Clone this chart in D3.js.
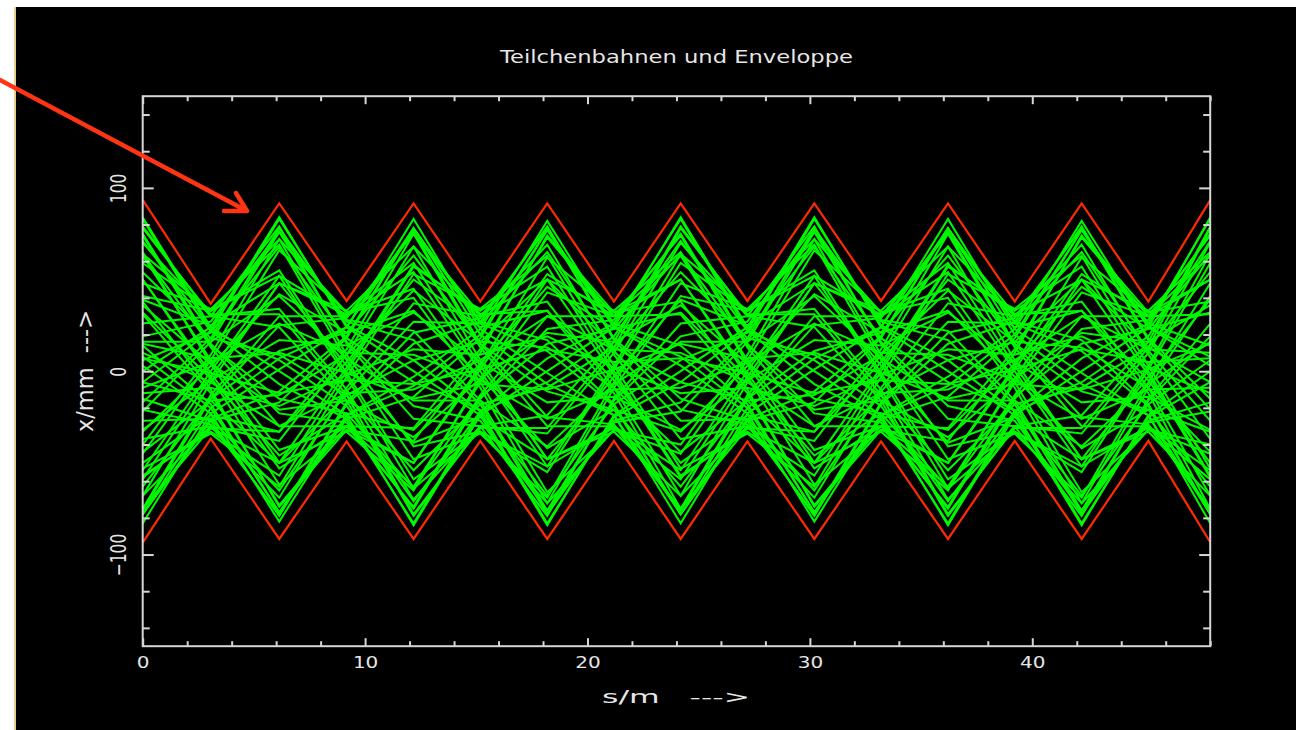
<!DOCTYPE html>
<html lang="de">
<head>
<meta charset="UTF-8">
<title>Teilchenbahnen und Enveloppe</title>
<script src="https://d3js.org/d3.v7.min.js"></script>
<style>
  body { margin: 0; background: #fff; }
  svg { display: block; }
</style>
</head>
<body>
<svg id="chart" width="1296" height="730"></svg>
<script>
// positions of the quadrupoles along s (m), where the paths bend
const sPos = [0, 3.06, 6.14, 9.17, 12.18, 15.18, 18.19, 21.19, 24.19, 27.19, 30.2, 33.2, 36.21, 39.21, 42.22, 45.22, 48];

// upper envelope x (mm) at those positions, lower one is the mirror
const envUpper = [93.5, 36.8, 91.5, 38.3, 91.5, 38, 91.5, 38, 91.5, 38.3, 91.5, 38.3, 91.5, 38, 91.5, 38, 93.3];

// particle paths x (mm), one row per particle, same positions as sPos
const bahnen = [
  [83,22,-7,-26,-83,-22,7,26,83,22,-7,-26,-83,-22,7,26,83],
  [64,14,-15,-23,-64,-14,15,23,64,14,-15,-23,-64,-14,15,23,64],
  [74,13,-30,-30,-74,-13,30,30,74,13,-30,-30,-74,-13,30,30,74],
  [36,4,-21,-16,-36,-4,21,16,36,4,-21,-16,-36,-4,21,16,36],
  [65,4,-50,-33,-65,-4,50,33,65,4,-50,-33,-65,-4,50,33,65],
  [50,-1,-53,-30,-50,1,53,30,50,-1,-53,-30,-50,1,53,30,50],
  [32,-4,-46,-23,-32,4,46,23,32,-4,-46,-23,-32,4,46,23,32],
  [38,-10,-74,-32,-38,10,74,32,38,-10,-74,-32,-38,10,74,32,38],
  [10,-6,-30,-12,-10,6,30,12,10,-6,-30,-12,-10,6,30,12,10],
  [14,-18,-77,-26,-14,18,77,26,14,-18,-77,-26,-14,18,77,26,14],
  [3,-23,-82,-24,-3,23,82,24,3,-23,-82,-24,-3,23,82,24,3],
  [-6,-16,-50,-13,6,16,50,13,-6,-16,-50,-13,6,16,50,13,-6],
  [-21,-29,-78,-17,21,29,78,17,-21,-29,-78,-17,21,29,78,17,-21],
  [-27,-26,-65,-11,27,26,65,11,-27,-26,-65,-11,27,26,65,11,-27],
  [-12,-9,-19,-2,12,9,19,2,-12,-9,-19,-2,12,9,19,2,-12],
  [-53,-34,-63,-3,53,34,63,3,-53,-34,-63,-3,53,34,63,3,-53],
  [-58,-31,-50,2,58,31,50,-2,-58,-31,-50,2,58,31,50,-2,-58],
  [-50,-24,-33,5,50,24,33,-5,-50,-24,-33,5,50,24,33,-5,-50],
  [-75,-31,-33,12,75,31,33,-12,-75,-31,-33,12,75,31,33,-12,-75],
  [-44,-16,-13,9,44,16,13,-9,-44,-16,-13,9,44,16,13,-9,-44],
  [-78,-26,-11,19,78,26,11,-19,-78,-26,-11,19,78,26,11,-19,-78],
  [-83,-23,1,24,83,23,-1,-24,-83,-23,1,24,83,23,-1,-24,-83],
  [-63,-15,11,21,63,15,-11,-21,-63,-15,11,21,63,15,-11,-21,-63],
  [-76,-15,25,29,76,15,-25,-29,-76,-15,25,29,76,15,-25,-29,-76],
  [-32,-5,17,14,32,5,-17,-14,-32,-5,17,14,32,5,-17,-14,-32],
  [-68,-6,48,33,68,6,-48,-33,-68,-6,48,33,68,6,-48,-33,-68],
  [-54,0,52,30,54,0,-52,-30,-54,0,52,30,54,0,-52,-30,-54],
  [-33,3,42,21,33,-3,-42,-21,-33,3,42,21,33,-3,-42,-21,-33],
  [-40,9,72,32,40,-9,-72,-32,-40,9,72,32,40,-9,-72,-32,-40],
  [-9,5,26,10,9,-5,-26,-10,-9,5,26,10,9,-5,-26,-10,-9],
  [-17,18,78,27,17,-18,-78,-27,-17,18,78,27,17,-18,-78,-27,-17],
  [-6,22,83,25,6,-22,-83,-25,-6,22,83,25,6,-22,-83,-25,-6],
  [6,21,68,18,-6,-21,-68,-18,6,21,68,18,-6,-21,-68,-18,6],
  [19,27,76,16,-19,-27,-76,-16,19,27,76,16,-19,-27,-76,-16,19],
  [16,16,41,7,-16,-16,-41,-7,16,16,41,7,-16,-16,-41,-7,16],
  [41,33,72,9,-41,-33,-72,-9,41,33,72,9,-41,-33,-72,-9,41],
  [39,25,48,3,-39,-25,-48,-3,39,25,48,3,-39,-25,-48,-3,39],
  [59,33,55,-1,-59,-33,-55,1,59,33,55,-1,-59,-33,-55,1,59],
  [15,7,10,-1,-15,-7,-10,1,15,7,10,-1,-15,-7,-10,1,15],
  [70,30,34,-10,-70,-30,-34,10,70,30,34,-10,-70,-30,-34,10,70],
  [79,30,24,-16,-79,-30,-24,16,79,30,24,-16,-79,-30,-24,16,79],
  [54,18,9,-13,-54,-18,-9,13,54,18,9,-13,-54,-18,-9,13,54],
  [7,-1,-12,-5,-7,1,12,5,7,-1,-12,-5,-7,1,12,5,7],
  [71,22,6,-19,-71,-22,-6,19,71,22,6,-19,-71,-22,-6,19,71],
  [84,24,0,-24,-84,-24,0,24,84,24,0,-24,-84,-24,0,24,84],
  [75,15,-23,-28,-75,-15,23,28,75,15,-23,-28,-75,-15,23,28,75],
  [63,6,-43,-30,-63,-6,43,30,63,6,-43,-30,-63,-6,43,30,63],
  [50,-3,-62,-32,-50,3,62,32,50,-3,-62,-32,-50,3,62,32,50],
  [31,-12,-73,-30,-31,12,73,30,31,-12,-73,-30,-31,12,73,30,31],
  [8,-20,-77,-24,-8,20,77,24,8,-20,-77,-24,-8,20,77,24,8],
  [-15,-27,-79,-18,15,27,79,18,-15,-27,-79,-18,15,27,79,18,-15],
  [-37,-30,-69,-9,37,30,69,9,-37,-30,-69,-9,37,30,69,9,-37],
  [-57,-33,-57,0,57,33,57,0,-57,-33,-57,0,57,33,57,0,-57],
  [-68,-30,-38,9,68,30,38,-9,-68,-30,-38,9,68,30,38,-9,-68],
  [-78,-27,-17,18,78,27,17,-18,-78,-27,-17,18,78,27,17,-18,-78],
  [-78,-20,7,24,78,20,-7,-24,-78,-20,7,24,78,20,-7,-24,-78],
  [-75,-13,30,30,75,13,-30,-30,-75,-13,30,30,75,13,-30,-30,-75],
  [-59,-3,48,31,59,3,-48,-31,-59,-3,48,31,59,3,-48,-31,-59],
  [-45,6,66,32,45,-6,-66,-32,-45,6,66,32,45,-6,-66,-32,-45],
  [-22,16,76,28,22,-16,-76,-28,-22,16,76,28,22,-16,-76,-28,-22],
  [0,24,84,24,0,-24,-84,-24,0,24,84,24,0,-24,-84,-24,0],
  [26,30,79,15,-26,-30,-79,-15,26,30,79,15,-26,-30,-79,-15,26],
  [48,34,69,6,-48,-34,-69,-6,48,34,69,6,-48,-34,-69,-6,48],
  [64,33,52,-3,-64,-33,-52,3,64,33,52,-3,-64,-33,-52,3,64],
  [78,31,31,-13,-78,-31,-31,13,78,31,31,-13,-78,-31,-31,13,78]
];

// ticks
const xTicks = d3.range(0, 49, 2);
const yTicks = d3.range(-140, 141, 20);

const titel = "Teilchenbahnen und Enveloppe";
const xTitel = "s/m   --->";
const yTitel = "x/mm  --->";

const axisColor = "#d6d6d6";
const textColor = "#e6e6e6";
const font = "'DejaVu Sans', sans-serif";

const svg = d3.select("#chart");

// black screen with the thin tan edge on the left
svg.append("rect").attr("x", 16).attr("y", 7).attr("width", 1280).attr("height", 723).attr("fill", "#000");
svg.append("line").attr("x1", 15).attr("x2", 15).attr("y1", 7).attr("y2", 730)
  .attr("stroke", "#e9cf8c").attr("stroke-width", 2);

const x = d3.scaleLinear().domain([0, 48]).range([142.7, 1210.2]);
const y = d3.scaleLinear().domain([-150, 150]).range([646.2, 96.2]);

const line = d3.line()
  .x((d, i) => x(sPos[i]))
  .y(d => y(d))
  .curve(d3.curveLinear);

// particle paths
svg.append("g")
  .selectAll("path")
  .data(bahnen)
  .enter()
  .append("path")
  .attr("d", line)
  .attr("fill", "none")
  .attr("stroke", "#00f800")
  .attr("stroke-width", 2);

// envelope
svg.append("g")
  .selectAll("path")
  .data([envUpper, envUpper.map(v => -v)])
  .enter()
  .append("path")
  .attr("d", line)
  .attr("fill", "none")
  .attr("stroke", "#ff2a00")
  .attr("stroke-width", 2.2);

// axes, ticks pointing inwards on all four sides
function styleAxis(g) {
  g.attr("font-family", font).attr("fill", null);
  g.select(".domain").remove();
  g.selectAll(".tick line").attr("stroke", axisColor).attr("stroke-width", 2);
  g.selectAll(".tick text").attr("fill", textColor);
}

const gBottom = svg.append("g")
  .attr("transform", `translate(0,${y(-150)})`)
  .call(d3.axisBottom(x).tickValues(xTicks).tickSize(-5).tickPadding(10)
    .tickFormat(d => d % 10 === 0 ? d : ""))
  .call(styleAxis)
  .attr("font-size", 16);
gBottom.selectAll(".tick line").filter(d => d % 10 === 0).attr("y2", -8);
gBottom.selectAll(".tick text").attr("transform", "scale(1.25,1)");

const gTop = svg.append("g")
  .attr("transform", `translate(0,${y(150)})`)
  .call(d3.axisTop(x).tickValues(xTicks).tickSize(-5).tickFormat(""))
  .call(styleAxis);
gTop.selectAll(".tick line").filter(d => d % 10 === 0).attr("y2", 8);

const gLeft = svg.append("g")
  .attr("transform", `translate(${x(0)},0)`)
  .call(d3.axisLeft(y).tickValues(yTicks).tickSize(-7)
    .tickFormat(d => d % 100 === 0 ? d3.format("d")(d) : ""))
  .call(styleAxis)
  .attr("font-size", 15.5);
gLeft.selectAll(".tick line").filter(d => d % 100 === 0).attr("x2", 11);
gLeft.selectAll(".tick text")
  .attr("x", 0).attr("dy", null)
  .attr("text-anchor", "middle")
  .attr("transform", "translate(-16.5,0) scale(1.4,1) rotate(-90)");

const gRight = svg.append("g")
  .attr("transform", `translate(${x(48)},0)`)
  .call(d3.axisRight(y).tickValues(yTicks).tickSize(-7).tickFormat(""))
  .call(styleAxis);
gRight.selectAll(".tick line").filter(d => d % 100 === 0).attr("x2", -11);

// frame
svg.append("rect")
  .attr("x", x(0)).attr("y", y(150))
  .attr("width", x(48) - x(0)).attr("height", y(-150) - y(150))
  .attr("fill", "none").attr("stroke", axisColor).attr("stroke-width", 2);

// texts
svg.append("text")
  .attr("x", 676.5).attr("y", 62.5)
  .attr("text-anchor", "middle")
  .attr("font-family", font).attr("font-size", 18).attr("fill", textColor)
  .attr("textLength", 353).attr("lengthAdjust", "spacingAndGlyphs")
  .text(titel);

svg.append("text")
  .attr("x", 602).attr("y", 703)
  .attr("font-family", font).attr("font-size", 17).attr("fill", textColor)
  .attr("textLength", 148).attr("lengthAdjust", "spacingAndGlyphs")
  .style("white-space", "pre")
  .text(xTitel);

svg.append("text")
  .attr("transform", "translate(93,371) scale(1.4,1) rotate(-90)")
  .attr("text-anchor", "middle")
  .attr("font-family", font).attr("font-size", 16.5).attr("fill", textColor)
  .attr("textLength", 122).attr("lengthAdjust", "spacingAndGlyphs")
  .style("white-space", "pre")
  .text(yTitel);

// red pointer arrow onto the envelope
const pfeil = { from: [0, 80], tip: [247, 211], wingA: [224, 211], wingB: [236, 193] };
svg.append("path")
  .attr("d", `M${pfeil.from}L${pfeil.tip}M${pfeil.wingA}L${pfeil.tip}L${pfeil.wingB}`)
  .attr("fill", "none")
  .attr("stroke", "#ff3414")
  .attr("stroke-width", 4.5)
  .attr("stroke-linecap", "round")
  .attr("stroke-linejoin", "round");
</script>
</body>
</html>
